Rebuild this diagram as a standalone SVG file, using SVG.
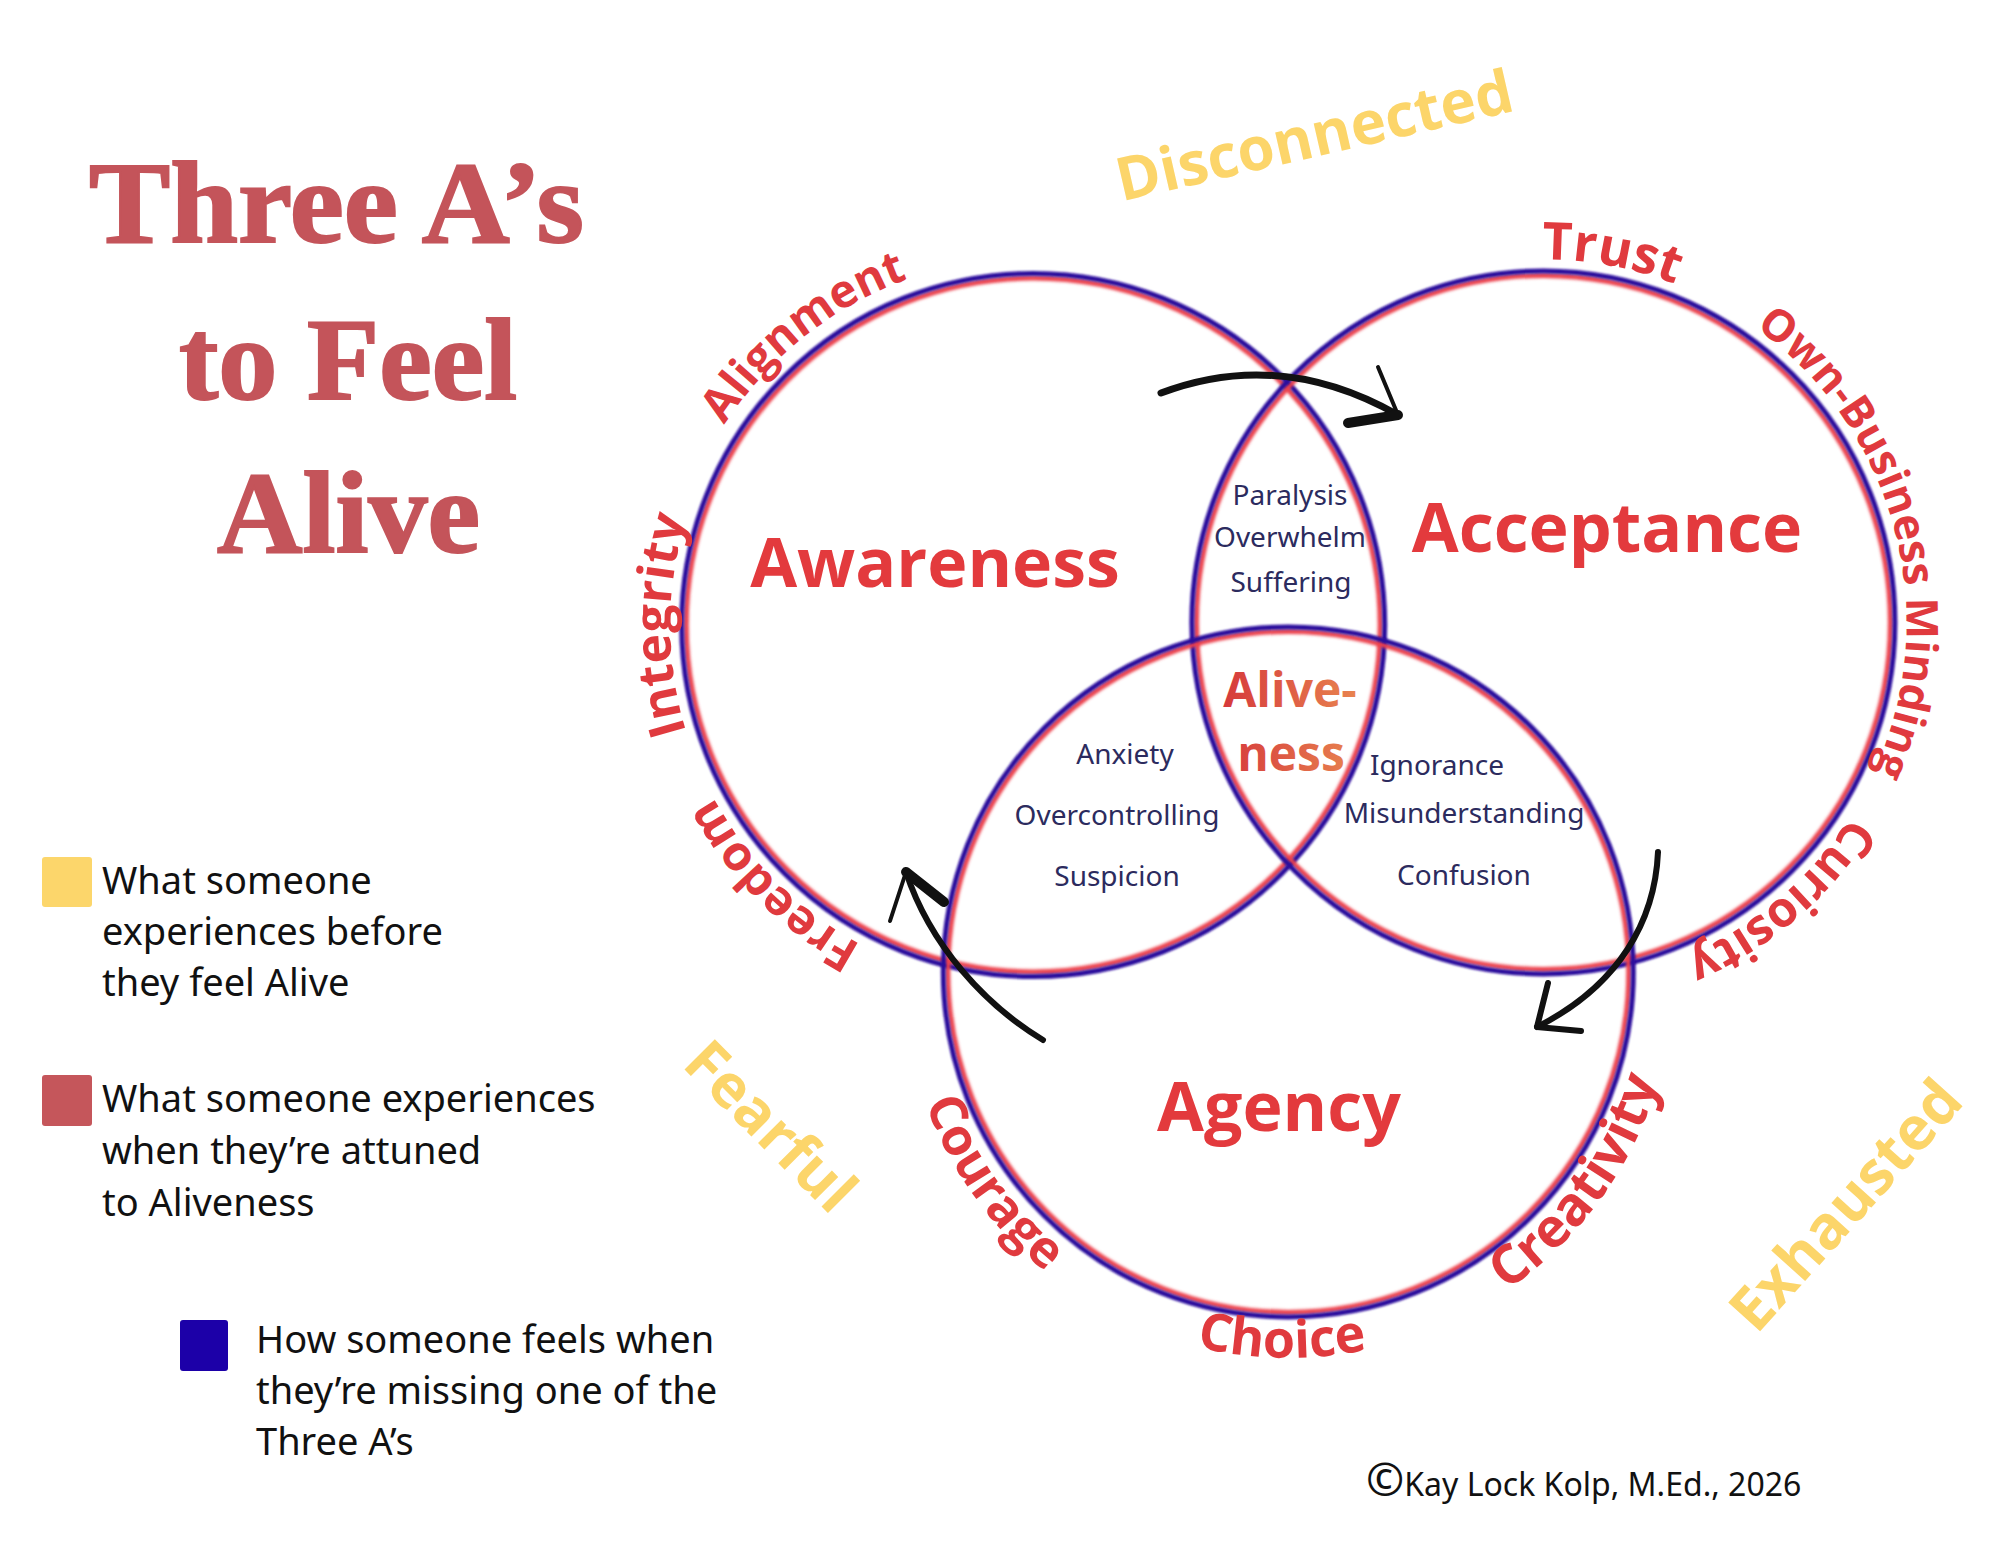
<svg xmlns="http://www.w3.org/2000/svg" xmlns:xlink="http://www.w3.org/1999/xlink" width="2000" height="1545" viewBox="0 0 2000 1545">
<defs>
<style>
.title{font-family:"Liberation Serif","DejaVu Serif",serif;font-weight:bold;font-size:116px;fill:#c4545a;stroke:#c4545a;stroke-width:2}
.legend{font-family:"Noto Sans","Open Sans",sans-serif;font-size:38px;fill:#111}
.copy{font-family:"Noto Sans","Open Sans",sans-serif;font-size:32px;fill:#111}
.yellow{font-family:"Open Sans","Noto Sans",sans-serif;font-weight:bold;font-size:60px;fill:#fcd56a;text-anchor:middle}
.arc{font-family:"Open Sans","Noto Sans",sans-serif;font-weight:bold;fill:#e03a3e}
.main{font-family:"Open Sans","Noto Sans",sans-serif;font-weight:bold;font-size:68px;fill:#e33a3d;text-anchor:middle}
.mid{font-family:"Noto Sans","Open Sans",sans-serif;font-size:28px;fill:#2c2b5e;text-anchor:middle}
.alive{font-family:"Open Sans","Noto Sans",sans-serif;font-weight:bold;font-size:48px;fill:url(#aliveGrad);text-anchor:middle}
.ringR{fill:none;stroke:#ec3f4c;stroke-width:5;filter:url(#soft)}
.ringB{fill:none;stroke:#2a0a9c;stroke-width:5;filter:url(#soft2)}
.arrow{fill:none;stroke:#111;stroke-linecap:round;stroke-linejoin:round}
</style>
<filter id="soft" x="-10%" y="-10%" width="120%" height="120%"><feGaussianBlur stdDeviation="1.5"/></filter>
<filter id="soft2" x="-10%" y="-10%" width="120%" height="120%"><feGaussianBlur stdDeviation="1"/></filter>
<linearGradient id="aliveGrad" gradientUnits="userSpaceOnUse" x1="1224" y1="0" x2="1356" y2="0">
<stop offset="0" stop-color="#d63a3c"/>
<stop offset="1" stop-color="#e8834f"/>
</linearGradient>
<path id="pAlign" d="M667.6,583.3 A368,368 0 0 1 1074.9,259.4"/>
<path id="pInteg" d="M776.5,881.7 A363,363 0 0 1 776.5,368.3"/>
<path id="pFree" d="M1033.2,988 A363,363 0 0 1 670.2,625"/>
<path id="pTrust" d="M1337.8,323.2 A363,363 0 0 1 1842.6,416.8"/>
<path id="pOwn" d="M1725.0,308.0 A363,363 0 0 1 1857.8,803.9"/>
<path id="pCur" d="M1905.2,651.5 A363,363 0 0 1 1514.3,984.2"/>
<path id="pCour" d="M907.6,908.2 A386,386 0 0 0 1224.6,1352.6"/>
<path id="pChoice" d="M1010.7,1240.1 A386,386 0 0 0 1556.5,1249.5"/>
<path id="pCreat" d="M1348.7,1353.2 A386,386 0 0 0 1669.6,911.5"/>
</defs>
<rect width="2000" height="1545" fill="#fff"/>

<g id="title">
<text class="title" x="89" y="242" textLength="495" lengthAdjust="spacingAndGlyphs">Three A’s</text>
<text class="title" x="179" y="399" textLength="338" lengthAdjust="spacingAndGlyphs">to Feel</text>
<text class="title" x="217" y="552" textLength="263" lengthAdjust="spacingAndGlyphs">Alive</text>
</g>

<g id="legend-yellow">
<rect x="42" y="857" width="50" height="50" rx="3" fill="#fcd66b"/>
<text class="legend" x="102" y="894">What someone</text>
<text class="legend" x="102" y="945">experiences before</text>
<text class="legend" x="102" y="996">they feel Alive</text>
</g>
<g id="legend-red">
<rect x="42" y="1075" width="50" height="51" rx="3" fill="#c5565b"/>
<text class="legend" x="102" y="1112">What someone experiences</text>
<text class="legend" x="102" y="1164">when they’re attuned</text>
<text class="legend" x="102" y="1216">to Aliveness</text>
</g>
<g id="legend-blue">
<rect x="180" y="1320" width="48" height="51" rx="3" fill="#1c00a8"/>
<text class="legend" x="256" y="1353">How someone feels when</text>
<text class="legend" x="256" y="1404">they’re missing one of the</text>
<text class="legend" x="256" y="1455">Three A’s</text>
</g>

<g id="yellow-states">
<text class="yellow" transform="translate(1319,156) rotate(-13)">Disconnected</text>
<text class="yellow" transform="translate(756,1141) rotate(45)">Fearful</text>
<text class="yellow" transform="translate(1861,1219) rotate(-48)">Exhausted</text>
</g>

<g id="awareness">
<circle class="ringR" cx="1033.2" cy="625" r="347"/>
<circle class="ringB" cx="1033.2" cy="625" r="351.5"/>
<text class="main" x="935" y="587">Awareness</text>
<text class="arc" font-size="46"><textPath href="#pAlign" startOffset="50%" text-anchor="middle">Alignment</textPath></text>
<text class="arc" font-size="50"><textPath href="#pInteg" startOffset="50%" text-anchor="middle">Integrity</textPath></text>
<text class="arc" font-size="48"><textPath href="#pFree" startOffset="50%" text-anchor="middle">Freedom</textPath></text>
</g>

<g id="acceptance">
<circle class="ringR" cx="1543.4" cy="622.4" r="347"/>
<circle class="ringB" cx="1543.4" cy="622.4" r="351.5"/>
<text class="main" x="1607" y="552">Acceptance</text>
<text class="arc" font-size="52"><textPath href="#pTrust" startOffset="50%" text-anchor="middle">Trust</textPath></text>
<text class="arc" font-size="44"><textPath href="#pOwn" startOffset="50%" text-anchor="middle">Own-Business Minding</textPath></text>
<text class="arc" font-size="49"><textPath href="#pCur" startOffset="50%" text-anchor="middle">Curiosity</textPath></text>
</g>

<g id="agency">
<circle class="ringR" cx="1288.3" cy="971.9" r="340.5"/>
<circle class="ringB" cx="1288.3" cy="971.9" r="345"/>
<text class="main" x="1279" y="1131">Agency</text>
<text class="arc" font-size="51"><textPath href="#pCour" startOffset="50%" text-anchor="middle">Courage</textPath></text>
<text class="arc" font-size="52"><textPath href="#pChoice" startOffset="50%" text-anchor="middle">Choice</textPath></text>
<text class="arc" font-size="54"><textPath href="#pCreat" startOffset="50%" text-anchor="middle">Creativity</textPath></text>
</g>

<g id="overlap-awareness-acceptance">
<text class="mid" x="1290" y="505">Paralysis</text>
<text class="mid" x="1290" y="547">Overwhelm</text>
<text class="mid" x="1291" y="592">Suffering</text>
</g>
<g id="overlap-awareness-agency">
<text class="mid" x="1125" y="764">Anxiety</text>
<text class="mid" x="1117" y="825">Overcontrolling</text>
<text class="mid" x="1117" y="886">Suspicion</text>
</g>
<g id="overlap-acceptance-agency">
<text class="mid" x="1437" y="775">Ignorance</text>
<text class="mid" x="1464" y="823">Misunderstanding</text>
<text class="mid" x="1464" y="885">Confusion</text>
</g>
<g id="aliveness">
<text class="alive" x="1290" y="707">Alive-</text>
<text class="alive" x="1291" y="771">ness</text>
</g>

<g id="connectors">
<path class="arrow" stroke-width="7" d="M1161,393 Q1280,348 1398,415"/>
<path class="arrow" stroke-width="4" d="M1378,367 L1398,415"/>
<path class="arrow" stroke-width="10" d="M1398,415 L1348,423"/>
<path class="arrow" stroke-width="6" d="M1658,852 C1655,920 1620,985 1537,1027"/>
<path class="arrow" stroke-width="6" d="M1548,983 L1537,1027 L1581,1031"/>
<path class="arrow" stroke-width="6" d="M1043,1040 C985,1005 930,945 906,872"/>
<path class="arrow" stroke-width="4" d="M890,921 L906,872"/>
<path class="arrow" stroke-width="10" d="M906,872 L944,902"/>
</g>

<g id="copyright">
<text class="copy" x="1366" y="1496"><tspan font-size="46">©</tspan>Kay Lock Kolp, M.Ed., 2026</text>
</g>
</svg>
